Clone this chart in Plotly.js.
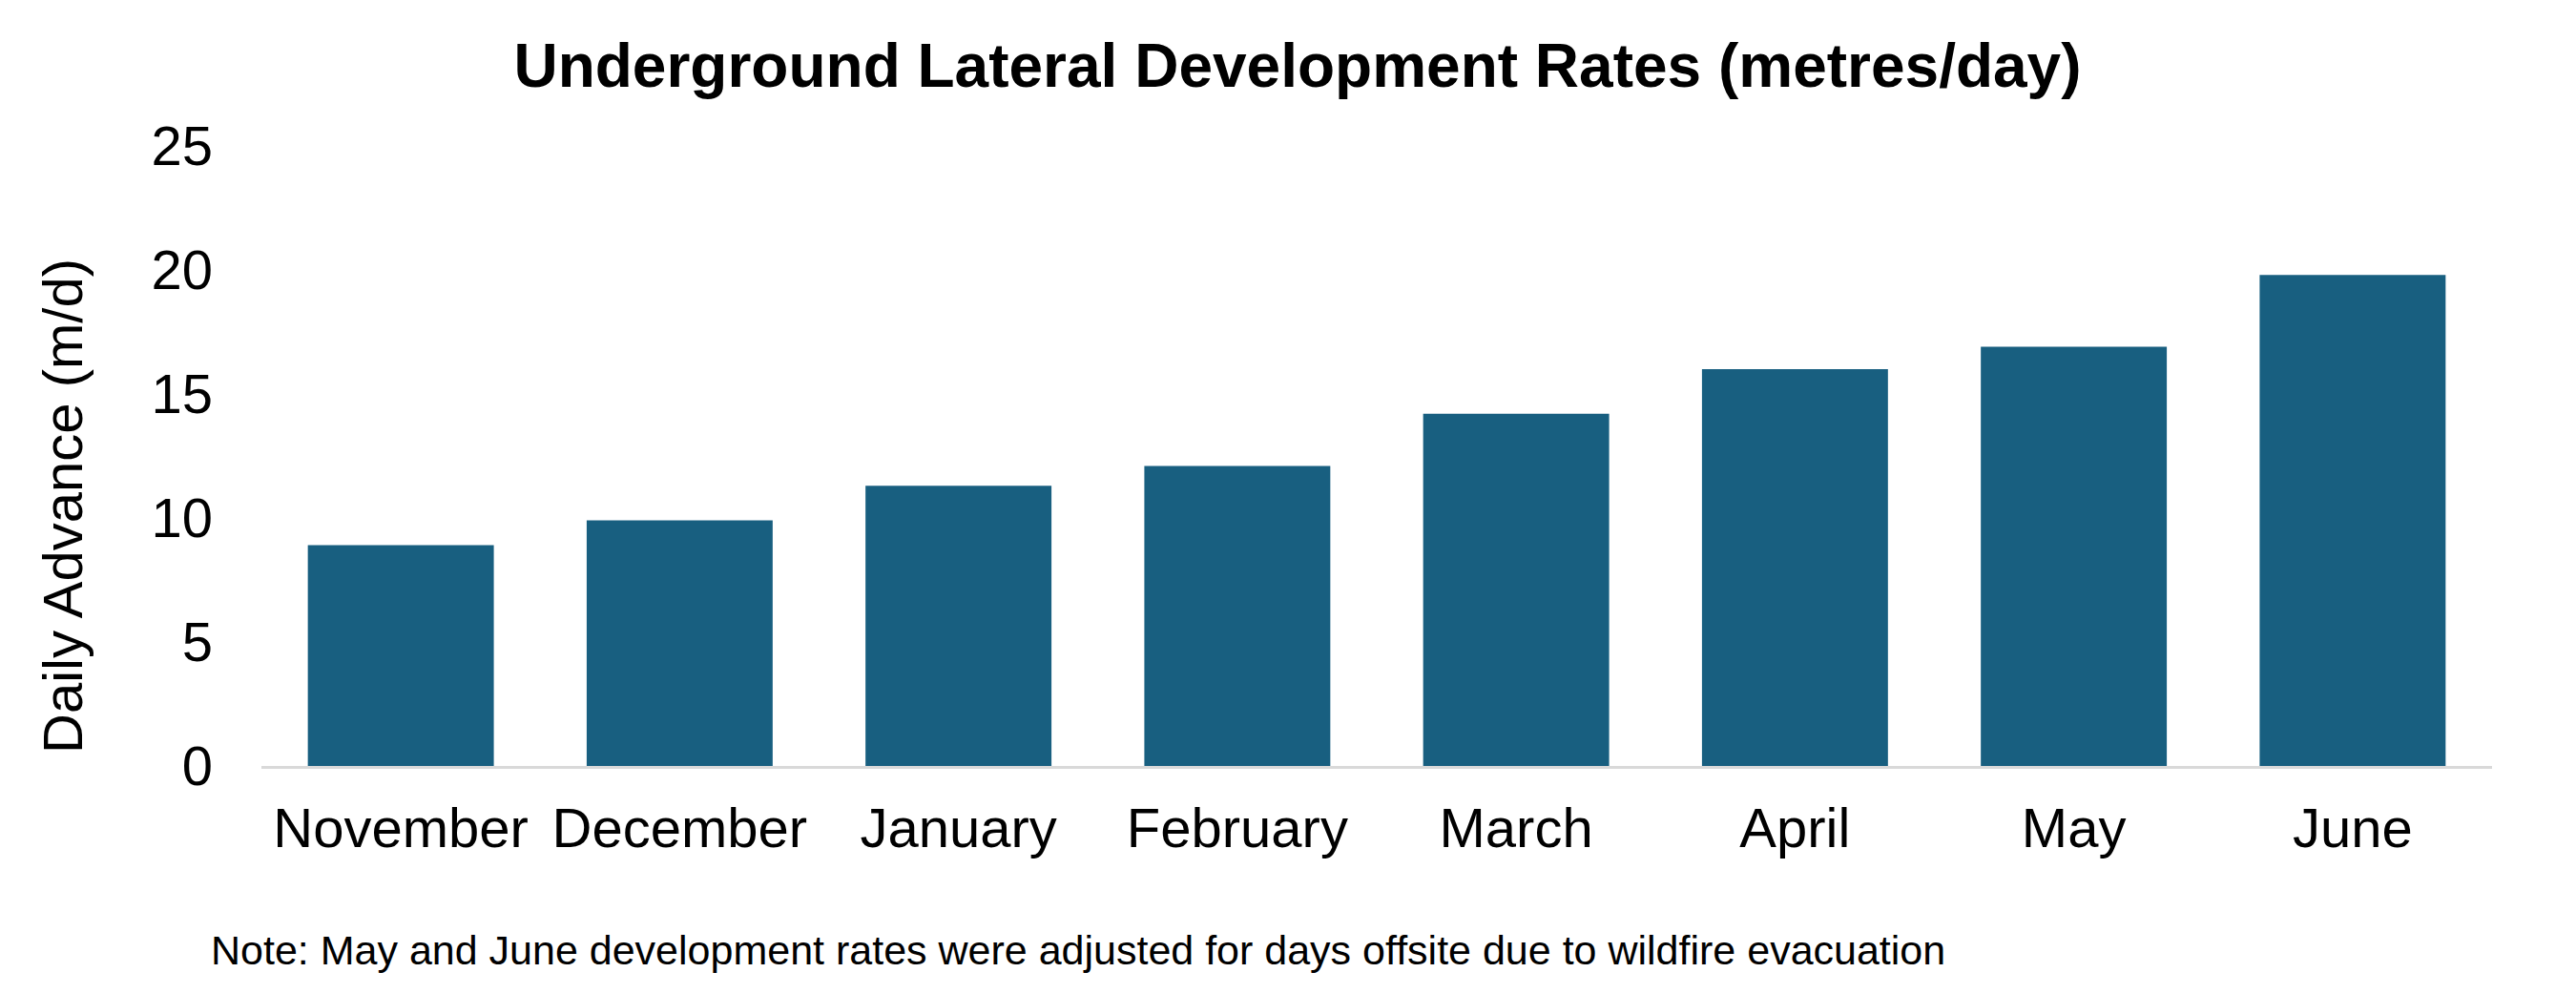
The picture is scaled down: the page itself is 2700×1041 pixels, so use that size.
<!DOCTYPE html>
<html>
<head>
<meta charset="utf-8">
<script src="https://cdn.plot.ly/plotly-3.0.1.min.js"></script>
<style>
  html, body { margin: 0; padding: 0; background: #ffffff; }
  #dev_chart { width: 2700px; height: 1041px; }
</style>
</head>
<body>
<div id="dev_chart"></div>
<script>

  /////////////////////   Data   /////////////////////

  var months = ['November', 'December', 'January', 'February', 'March', 'April', 'May', 'June'];
  var daily_advance = [8.9, 9.9, 11.3, 12.1, 14.2, 16.0, 16.9, 19.8];   // metres per day
  var y_ticks = [0, 5, 10, 15, 20, 25];

  var chart_title = 'Underground Lateral Development Rates (metres/day)';
  var y_title = 'Daily Advance (m/d)';
  var note_text = 'Note: May and June development rates were adjusted for days offsite due to wildfire evacuation';

  ////////////////////////////////////////////////////

  var font_family = 'Liberation Sans, Arial, Helvetica, sans-serif';

  var trace1 = {
    x: months,
    y: daily_advance,
    type: 'bar',
    name: 'Daily Advance',
    marker: { color: '#185f80' },
    hoverinfo: 'x+y'
  };

  var layout = {
    width: 2700,
    height: 1041,
    showlegend: false,
    paper_bgcolor: '#ffffff',
    plot_bgcolor: '#ffffff',
    margin: { l: 274, r: 88, t: 153, b: 238 },
    bargap: 0.333,
    font: { family: font_family, color: '#000000', size: 58 },
    title: {
      text: '<b>' + chart_title + '</b>',
      font: { family: font_family, size: 64, color: '#000000' },
      xref: 'container',
      yref: 'container',
      x: 0.5037,
      xanchor: 'center',
      y: 0.934,
      yanchor: 'middle'
    },
    xaxis: {
      type: 'category',
      showgrid: false,
      zeroline: false,
      showline: true,
      linecolor: '#d9d9d9',
      linewidth: 3,
      ticks: '',
      ticklabelstandoff: 12,
      tickfont: { family: font_family, size: 58, color: '#000000' }
    },
    yaxis: {
      range: [0, 25],
      tickvals: y_ticks,
      showgrid: false,
      zeroline: false,
      showline: false,
      ticks: '',
      ticklabelstandoff: 50,
      tickfont: { family: font_family, size: 58, color: '#000000' }
    },
    annotations: [
      {
        // axis title placed by hand so it sits a little lower, as in the original
        text: y_title,
        textangle: -90,
        xref: 'paper',
        yref: 'paper',
        x: -0.0894,
        y: 0.42,
        xanchor: 'center',
        yanchor: 'middle',
        showarrow: false,
        font: { family: font_family, size: 58, color: '#000000' }
      },
      {
        text: note_text,
        xref: 'paper',
        yref: 'paper',
        x: -0.0236,
        y: -0.297,
        xanchor: 'left',
        yanchor: 'middle',
        showarrow: false,
        font: { family: font_family, size: 43, color: '#000000' }
      }
    ]
  };

  Plotly.newPlot('dev_chart', [trace1], layout, { displayModeBar: false, staticPlot: true });

</script>
</body>
</html>
